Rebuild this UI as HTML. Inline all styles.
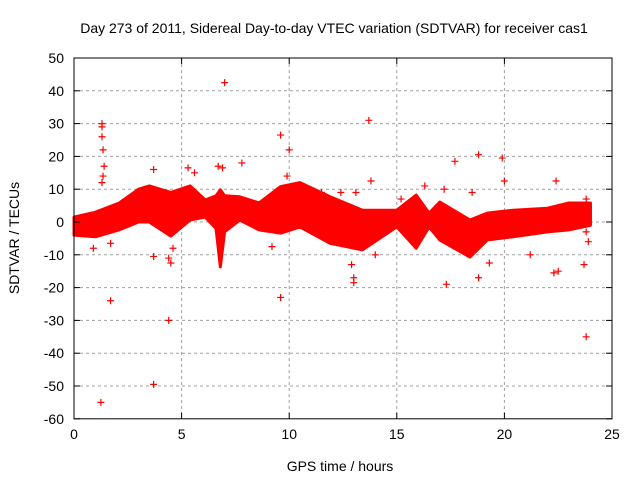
<!DOCTYPE html>
<html><head><meta charset="utf-8"><style>
body{margin:0;background:#fff}
svg text{font-family:"Liberation Sans",sans-serif;font-size:14px;fill:#000}
</style></head><body>
<svg id="chart" width="640" height="480" xmlns="http://www.w3.org/2000/svg">
<text x="334" y="33" text-anchor="middle">Day 273 of 2011, Sidereal Day-to-day VTEC variation (SDTVAR) for receiver cas1</text>
<g id="grid"></g>
<g id="band"></g>
<g id="pts"></g>
<g id="axes"></g>
<text x="340" y="471" text-anchor="middle">GPS time / hours</text>
<text transform="translate(19,238) rotate(-90)" text-anchor="middle">SDTVAR / TECUs</text>
</svg>
<script>
const xTicks=[0,5,10,15,20,25];
const yTicks=[50,40,30,20,10,0,-10,-20,-30,-40,-50,-60];
const bandT=[0,1,2.1,3,3.5,4.5,5.4,6.1,6.6,6.8,7.0,7.7,8.6,9.6,10.5,11.9,13.4,15,15.9,16.5,17,18.4,19.2,20.4,22,23,24];
const bandUpper=[1.5,3,5.8,10,11,9,11,6.7,8,9.8,8,7.7,5.8,10.8,12,7.7,3.6,3.6,8.2,2.7,6.1,0.6,2.7,3.6,4.2,5.8,5.8];
const bandLower=[-4,-4.5,-2.4,0,0,-4.3,0.6,1.5,-2,-13.7,-3,0.6,-2.4,-3.4,-1.5,-6.5,-8.5,-1.5,-8,-1.5,-5.5,-10.7,-5.5,-4.5,-3,-2.4,-1];
const outT=[1.3,1.3,1.3,1.35,1.4,1.3,1.25,1.7,3.7,4.4,7.0,9.6,9.6,10,13.7,13.8,13,13,17.3,17.7,18.8,18.8,19.9,20,22.3,22.5,22.4,23.8,23.7,23.8,3.7,5.3,6.7,6.9,7.8,12.4,13.1,15.2,16.3,17.2,19.3,0.9,1.7,4.5,4.4,3.7,9.2,14,12.9,1.35,4.6,5.6,9.9,11.5,18.5,21.2,23.9,23.8];
const outV=[29,30,26,22,17,12,-55,-24,-49.5,-30,42.5,26.5,-23,22,31,12.5,-17,-18.5,-19,18.5,20.5,-17,19.5,12.5,-15.5,-15,12.5,-35,-13,7,16,16.5,17,16.5,18,9,9,7,11,10,-12.5,-8,-6.5,-12.5,-11,-10.5,-7.5,-10,-13,14,-8,15,14,9,9,-10,-6,-3];
const X=t=>74+t*21.52, Y=v=>222-v*3.28;
const ns="http://www.w3.org/2000/svg";
function mk(tag,attrs,parent){const e=document.createElementNS(ns,tag);for(const k in attrs)e.setAttribute(k,attrs[k]);parent.appendChild(e);return e;}
const grid=document.getElementById('grid'),axes=document.getElementById('axes');
xTicks.forEach(t=>{
 if(t>0&&t<25){const l=mk('line',{x1:X(t),x2:X(t),y1:Y(50),y2:Y(-60),stroke:'#a0a0a0','stroke-dasharray':'3,3'},grid);
 
 }
 const tx=mk('text',{x:X(t),y:Y(-60)+20,'text-anchor':'middle'},axes);tx.textContent=t;
 
 
 mk('line',{x1:X(t),x2:X(t),y1:Y(-60),y2:Y(-60)-6,stroke:'#000'},axes);
 mk('line',{x1:X(t),x2:X(t),y1:Y(50),y2:Y(50)+6,stroke:'#000'},axes);
});
yTicks.forEach(v=>{
 if(v<50&&v>-60){const l=mk('line',{x1:X(0),x2:X(25),y1:Y(v),y2:Y(v),stroke:'#a0a0a0','stroke-dasharray':'3,3'},grid);
 
 }
 const tx=mk('text',{x:X(0)-10,y:Y(v)+5,'text-anchor':'end'},axes);tx.textContent=v;
 
 
 mk('line',{x1:X(0),x2:X(0)+6,y1:Y(v),y2:Y(v),stroke:'#000'},axes);
 mk('line',{x1:X(25),x2:X(25)-6,y1:Y(v),y2:Y(v),stroke:'#000'},axes);
});
const fr=mk('rect',{x:X(0),y:Y(50),width:X(25)-X(0),height:Y(-60)-Y(50),fill:'none',stroke:'#000'},axes);


let d='M'+bandT.map((t,i)=>X(t)+','+Y(bandUpper[i])).join('L');
for(let i=bandT.length-1;i>=0;i--)d+='L'+X(bandT[i])+','+Y(bandLower[i]);
const bp=mk('path',{d:d+'Z',fill:'#ff0000',stroke:'#ff0000','stroke-width':3,'stroke-linejoin':'round'},document.getElementById('band'));


const pts=document.getElementById('pts');
outT.forEach((t,i)=>{
 const x=X(t),y=Y(outV[i]);
 const p=mk('path',{d:`M${x-3.5},${y}H${x+3.5}M${x},${y-3.5}V${y+3.5}`,stroke:'#ff0000','stroke-width':1.2},pts);
 
 
});
</script>
</body></html>
